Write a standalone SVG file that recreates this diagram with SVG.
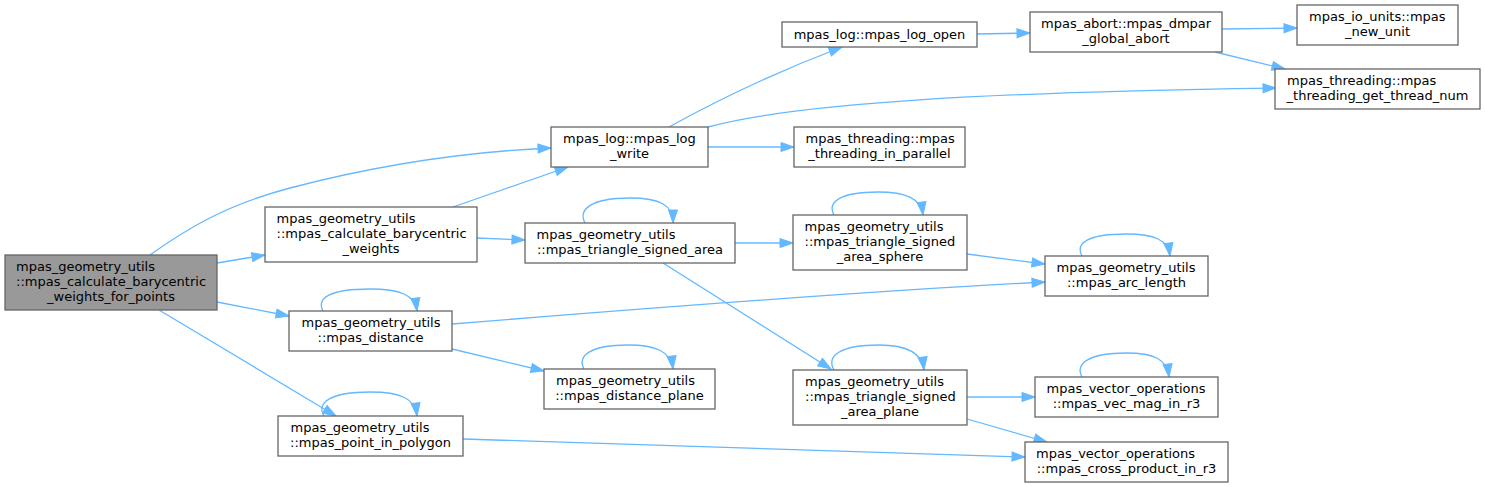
<svg xmlns="http://www.w3.org/2000/svg" width="1485" height="487" viewBox="0 0 1485 487">
<style>
.n rect{fill:#ffffff;stroke:#666666;stroke-width:1.3}
.main rect{fill:#999999;stroke:#666666;stroke-width:1.3}
text{font-family:"DejaVu Sans","Liberation Sans",sans-serif;font-size:13px;fill:#000000}
.m{text-anchor:middle}
.s{text-anchor:start}
.e path{fill:none;stroke:#63b8ff;stroke-width:1.3;marker-end:url(#ah)}
</style>
<defs>
<marker id="ah" markerUnits="userSpaceOnUse" markerWidth="15" markerHeight="11" refX="13" refY="4.5" orient="auto" overflow="visible">
<path d="M0,0 L13,4.5 L0,9 z" fill="#63b8ff" stroke="#63b8ff" stroke-width="1"/>
</marker>
</defs>
<rect width="1485" height="487" fill="#ffffff"/>
<g class="e" id="edges">
<path d="M150,255 C185,230 225,205 290,188 C370,167 460,152 551,148"/>
<path d="M217,263 L265,255"/>
<path d="M217,302 L289,316"/>
<path d="M159,310 L336,416"/>
<path d="M453,207 L568,167"/>
<path d="M477,238 L525,240"/>
<path d="M585,223 C578,210 590,198 630,198 C660,198 673,205 673,223"/>
<path d="M735,243 L793,243"/>
<path d="M663,263 L831,369"/>
<path d="M834,215 C827,202 840,192 878,192 C905,192 921,198 923,215"/>
<path d="M967,254 L1045,264"/>
<path d="M452,324 C600,312 850,292 1045,282"/>
<path d="M323,311 C316,298 330,289 370,289 C400,289 415,295 417,311"/>
<path d="M452,349 L544,371"/>
<path d="M584,369 C577,356 590,345 628,345 C655,345 671,351 673,369"/>
<path d="M324,416 C316,403 330,392 370,392 C400,392 415,398 417,416"/>
<path d="M463,439 L1025,457"/>
<path d="M669,127 Q750,82 842,47"/>
<path d="M708,127 C800,102 1000,92 1276,88"/>
<path d="M708,147 L794,147"/>
<path d="M977,34 L1030,33"/>
<path d="M1222,29 L1297,28"/>
<path d="M1215,52 L1285,69"/>
<path d="M1082,256 C1075,243 1088,234 1126,234 C1155,234 1168,240 1170,256"/>
<path d="M834,370 C826,356 840,345 879,345 C906,345 922,352 924,370"/>
<path d="M967,397 L1035,397"/>
<path d="M967,419 L1047,442"/>
<path d="M1082,377 C1075,364 1088,353 1126,353 C1154,353 1167,359 1169,377"/>
</g>
<g id="nA" class="main"><rect x="5" y="255" width="212" height="55"/>
<text class="s" x="16" y="271">mpas_geometry_utils</text>
<text class="s" x="16" y="286">::mpas_calculate_barycentric</text>
<text class="m" x="111" y="301">_weights_for_points</text></g>
<g id="nB" class="n"><rect x="265" y="207" width="212" height="55"/>
<text class="s" x="276.5" y="223">mpas_geometry_utils</text>
<text class="s" x="276.5" y="238">::mpas_calculate_barycentric</text>
<text class="m" x="371" y="253">_weights</text></g>
<g id="nC" class="n"><rect x="289" y="311" width="163" height="40"/>
<text class="s" x="301.5" y="327">mpas_geometry_utils</text>
<text class="m" x="370.5" y="342">::mpas_distance</text></g>
<g id="nD" class="n"><rect x="278" y="416" width="185" height="40"/>
<text class="s" x="290.5" y="432">mpas_geometry_utils</text>
<text class="m" x="370.5" y="447">::mpas_point_in_polygon</text></g>
<g id="nE" class="n"><rect x="551" y="127" width="157" height="40"/>
<text class="s" x="563" y="143">mpas_log::mpas_log</text>
<text class="m" x="629.5" y="158">_write</text></g>
<g id="nF" class="n"><rect x="782" y="22" width="195" height="25"/>
<text class="m" x="879.5" y="38.5">mpas_log::mpas_log_open</text></g>
<g id="nG" class="n"><rect x="794" y="127" width="171" height="40"/>
<text class="s" x="805.5" y="143">mpas_threading::mpas</text>
<text class="m" x="879.5" y="158">_threading_in_parallel</text></g>
<g id="nH" class="n"><rect x="1030" y="12" width="192" height="40"/>
<text class="s" x="1041" y="28">mpas_abort::mpas_dmpar</text>
<text class="m" x="1126" y="43">_global_abort</text></g>
<g id="nI" class="n"><rect x="1297" y="5" width="161" height="40"/>
<text class="s" x="1309" y="21">mpas_io_units::mpas</text>
<text class="m" x="1377.5" y="36">_new_unit</text></g>
<g id="nJ" class="n"><rect x="1275" y="69" width="205" height="40"/>
<text class="s" x="1287" y="85">mpas_threading::mpas</text>
<text class="m" x="1377.5" y="100">_threading_get_thread_num</text></g>
<g id="nK" class="n"><rect x="525" y="223" width="210" height="40"/>
<text class="s" x="536.5" y="239">mpas_geometry_utils</text>
<text class="m" x="630" y="254">::mpas_triangle_signed_area</text></g>
<g id="nL" class="n"><rect x="793" y="215" width="174" height="55"/>
<text class="s" x="804.5" y="231">mpas_geometry_utils</text>
<text class="s" x="804.5" y="246">::mpas_triangle_signed</text>
<text class="m" x="880" y="261">_area_sphere</text></g>
<g id="nM" class="n"><rect x="1045" y="256" width="163" height="40"/>
<text class="s" x="1056.5" y="272">mpas_geometry_utils</text>
<text class="m" x="1126.5" y="287">::mpas_arc_length</text></g>
<g id="nN" class="n"><rect x="544" y="369" width="171" height="40"/>
<text class="s" x="556" y="385">mpas_geometry_utils</text>
<text class="m" x="629.5" y="400">::mpas_distance_plane</text></g>
<g id="nO" class="n"><rect x="793" y="370" width="174" height="55"/>
<text class="s" x="805" y="386">mpas_geometry_utils</text>
<text class="s" x="805" y="401">::mpas_triangle_signed</text>
<text class="m" x="880" y="416">_area_plane</text></g>
<g id="nP" class="n"><rect x="1035" y="377" width="183" height="40"/>
<text class="s" x="1046.5" y="393">mpas_vector_operations</text>
<text class="m" x="1126.5" y="408">::mpas_vec_mag_in_r3</text></g>
<g id="nQ" class="n"><rect x="1025" y="442" width="203" height="40"/>
<text class="s" x="1036" y="458">mpas_vector_operations</text>
<text class="m" x="1126.5" y="473">::mpas_cross_product_in_r3</text></g>
</svg>
